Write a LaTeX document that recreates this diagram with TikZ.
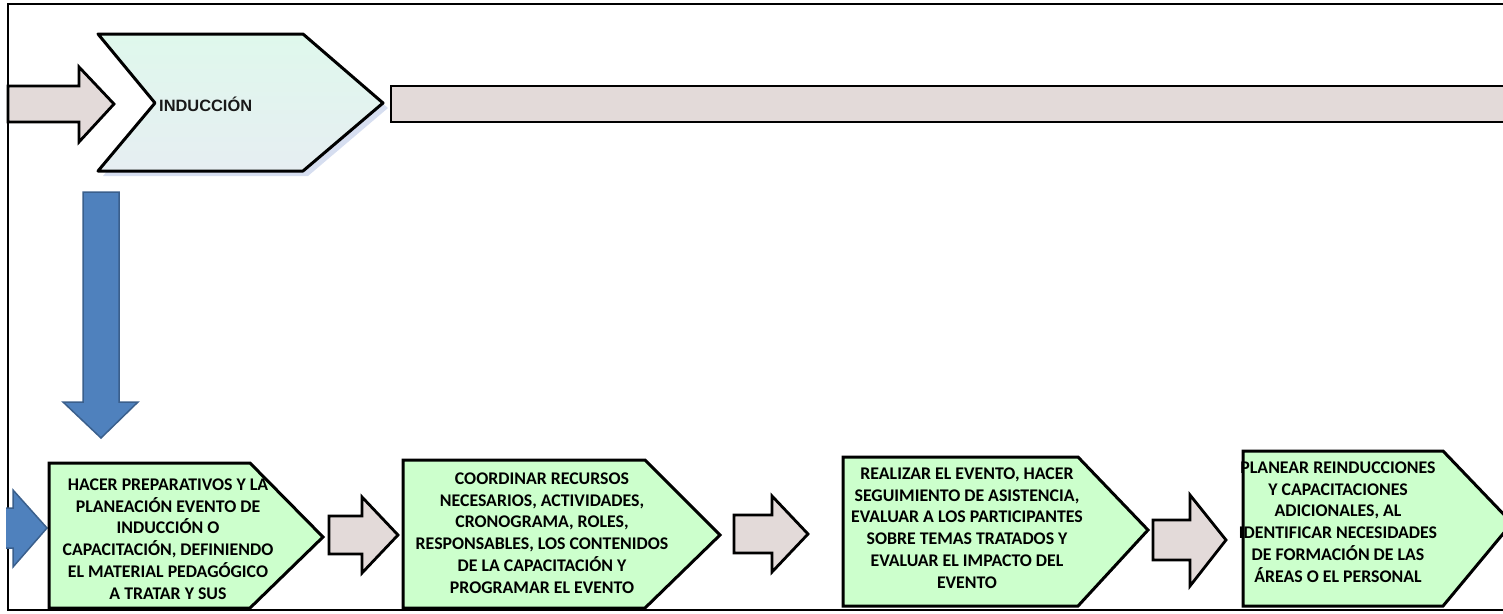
\documentclass[tikz,border=0pt]{standalone}
\usepackage{fontspec}
\setmainfont{Carlito}
\newfontfamily\arialfont{Liberation Sans}
\definecolor{boxgreen}{HTML}{CCFFCC}
\definecolor{arrowgray}{HTML}{E3DAD9}
\definecolor{blueA}{HTML}{4F81BD}
\definecolor{blueB}{HTML}{3A5F8C}
\definecolor{mintA}{HTML}{DFF8EC}
\definecolor{mintB}{HTML}{E6EEF2}
\definecolor{shadowblue}{HTML}{D6DEF0}
\begin{document}
\begin{tikzpicture}[x=1pt,y=-1pt,
  stepbox/.style={fill=boxgreen, draw=black, line width=3pt, line join=miter},
  grayarrow/.style={fill=arrowgray, draw=black, line width=2.8pt, line join=miter},
  bluearrow/.style={fill=blueA, draw=blueB, line width=1.5pt, line join=miter},
  boxtext/.style={font=\bfseries\fontsize{17.8}{21.8}\selectfont, align=center, text=black, inner sep=0pt},
  frameline/.style={draw=black, line width=2pt}
]
\useasboundingbox (0,0) rectangle (1503,613);
% frame
\draw[frameline] (1503,4) -- (8,4) -- (8,610) -- (1503,610);

% top gray arrow
\draw[grayarrow] (8,86) -- (79,86) -- (79,67) -- (114,104) -- (79,142) -- (79,122) -- (8,122) -- cycle;

% INDUCCION chevron with shadow
\fill[shadowblue] (103,39) -- (308,39) -- (388,108) -- (308,176) -- (103,176) -- (160,108) -- cycle;
\draw[line width=3pt, line join=round, top color=mintA, bottom color=mintB, draw=black]
  (98,34) -- (303,34) -- (383,103) -- (303,171) -- (98,171) -- (155,103) -- cycle;
\node[anchor=west, inner sep=0pt, font=\arialfont\bfseries\fontsize{16.4}{19}\selectfont, text={black!90}] (induccion) at (159,104) {INDUCCIÓN};

% long bar
\draw[grayarrow] (1520,86) -- (391,86) -- (391,122) -- (1520,122);

% blue down arrow
\draw[bluearrow] (83,192) -- (119,192) -- (119,402) -- (138,402) -- (101,438) -- (63,402) -- (83,402) -- cycle;

% blue right arrow (partial)
\draw[bluearrow] (6,508) -- (13,508) -- (13,490) -- (47,528) -- (13,567) -- (13,548) -- (6,548);

% step boxes
\draw[stepbox] (49,463) -- (250,463) -- (323,537) -- (250,608) -- (49,608) -- cycle;
\draw[stepbox] (403,460) -- (645,460) -- (720,535) -- (645,608) -- (403,608) -- cycle;
\draw[stepbox] (843,457) -- (1078,457) -- (1148,530) -- (1078,606) -- (843,606) -- cycle;
\draw[stepbox] (1243,451) -- (1443,451) -- (1512,523) -- (1443,606) -- (1243,606) -- cycle;

% gray arrows between boxes
\draw[grayarrow] (329,516) -- (362,516) -- (362,497) -- (398,535) -- (362,573) -- (362,554) -- (329,554) -- cycle;
\draw[grayarrow] (734,515) -- (772,515) -- (772,496) -- (808,534) -- (772,572) -- (772,553) -- (734,553) -- cycle;
\draw[grayarrow] (1153,520) -- (1190,520) -- (1190,495) -- (1226,540) -- (1190,586) -- (1190,560) -- (1153,560) -- cycle;

% texts
\node[boxtext] (t1) at (168,539) {HACER PREPARATIVOS Y LA\\PLANEACIÓN EVENTO DE\\INDUCCIÓN O\\CAPACITACIÓN, DEFINIENDO\\EL MATERIAL PEDAGÓGICO\\A TRATAR Y SUS};
\node[boxtext] (t2) at (542,533) {COORDINAR RECURSOS\\NECESARIOS, ACTIVIDADES,\\CRONOGRAMA, ROLES,\\RESPONSABLES, LOS CONTENIDOS\\DE LA CAPACITACIÓN Y\\PROGRAMAR EL EVENTO};
\node[boxtext] (t3) at (967,528) {REALIZAR EL EVENTO, HACER\\SEGUIMIENTO DE ASISTENCIA,\\EVALUAR A LOS PARTICIPANTES\\SOBRE TEMAS TRATADOS Y\\EVALUAR EL IMPACTO DEL\\EVENTO};
\node[boxtext] (t4) at (1338,522) {PLANEAR REINDUCCIONES\\Y CAPACITACIONES\\ADICIONALES, AL\\IDENTIFICAR NECESIDADES\\DE FORMACIÓN DE LAS\\ÁREAS O EL PERSONAL};
\end{tikzpicture}
\end{document}
